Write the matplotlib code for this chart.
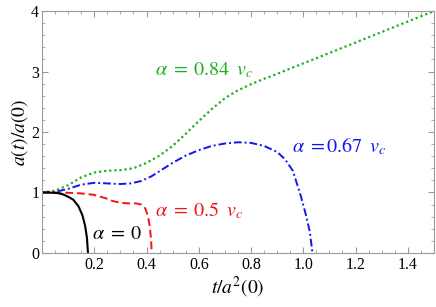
import matplotlib
matplotlib.use("Agg")
import matplotlib.pyplot as plt
from matplotlib.ticker import MultipleLocator, FixedLocator

plt.rcParams['mathtext.fontset'] = 'stix'
plt.rcParams['font.family'] = ['Liberation Serif', 'DejaVu Serif']

# curves: t / a^2(0) against a(t)/a(0)
black_t = [0, 0.03, 0.06, 0.08, 0.10, 0.12, 0.14, 0.155, 0.165, 0.172, 0.176]
black_y = [1.0, 0.998, 0.99, 0.97, 0.93, 0.88, 0.77, 0.62, 0.45, 0.25, 0.0]

red_t = [0, 0.05, 0.10, 0.15, 0.20, 0.24, 0.27, 0.30, 0.33, 0.36, 0.38, 0.395, 0.405, 0.412, 0.417, 0.42]
red_y = [1.0, 1.0, 0.995, 0.985, 0.96, 0.91, 0.86, 0.83, 0.82, 0.82, 0.80, 0.74, 0.62, 0.45, 0.25, 0.0]

blue_t = [0, 0.05, 0.10, 0.15, 0.20, 0.25, 0.30, 0.34, 0.38, 0.42, 0.46, 0.50, 0.55, 0.60, 0.65,
          0.70, 0.75, 0.80, 0.85, 0.90, 0.93, 0.96, 0.99, 1.01, 1.025, 1.035]
blue_y = [1.0, 1.01, 1.06, 1.13, 1.16, 1.15, 1.14, 1.15, 1.19, 1.27, 1.38, 1.49, 1.61, 1.70, 1.77,
          1.81, 1.83, 1.82, 1.77, 1.67, 1.55, 1.36, 0.95, 0.63, 0.35, 0.0]

green_t = [0, 0.05, 0.10, 0.15, 0.20, 0.25, 0.30, 0.35, 0.40, 0.45, 0.50, 0.55, 0.60, 0.65,
           0.70, 0.75, 0.80, 0.85, 0.90, 0.95, 1.05, 1.2, 1.35, 1.5]
green_y = [1.0, 1.03, 1.12, 1.25, 1.33, 1.36, 1.37, 1.40, 1.49, 1.61, 1.77, 1.97, 2.18, 2.38,
           2.56, 2.69, 2.79, 2.88, 2.96, 3.05, 3.22, 3.48, 3.74, 4.0]

x_major = [0.2, 0.4, 0.6, 0.8, 1.0, 1.2, 1.4]
y_major = [0, 1, 2, 3, 4]

GREEN = '#1fb01f'
BLUE = '#1414f0'
RED = '#f01414'

fig = plt.figure(figsize=(4.36, 3.07), dpi=100)
ax = fig.add_axes([0.0963, 0.176, 0.899, 0.788])

ax.plot(green_t, green_y, color=GREEN, lw=1.6, linestyle=(0, (1.0, 1.3)))
ax.plot(blue_t, blue_y, color=BLUE, lw=1.4, linestyle=(0, (4, 1.5, 1, 1.5)))
ax.plot(red_t, red_y, color=RED, lw=1.4, linestyle=(0, (4, 2)))
ax.plot(black_t, black_y, color='black', lw=1.5)

ax.text(0.433, 3.02, r'$\alpha\;=\;0.84\ \,v_c$', color=GREEN, fontsize=14.5, va='center', ha='left')
ax.text(0.955, 1.76, r'$\alpha\;{=}0.67\ \,v_c$', color=BLUE, fontsize=14.5, va='center', ha='left')
ax.text(0.432, 0.69, r'$\alpha\;=\;0.5\ \,v_c$', color=RED, fontsize=14.5, va='center', ha='left')
ax.text(0.19, 0.30, r'$\alpha\;=\;0$', color='black', fontsize=14.5, va='center', ha='left')

ax.set_xlim(0, 1.5)
ax.set_ylim(0, 4)
ax.xaxis.set_major_locator(FixedLocator(x_major))
ax.xaxis.set_minor_locator(MultipleLocator(0.05))
ax.yaxis.set_major_locator(FixedLocator(y_major))
ax.yaxis.set_minor_locator(MultipleLocator(0.2))

for s in ax.spines.values():
    s.set_color('#9a9a9a')
    s.set_linewidth(0.8)
ax.tick_params(which='both', direction='in', top=True, right=True, color='#9a9a9a',
               labelsize=11.5, pad=3)
ax.tick_params(which='major', length=4.5, width=0.8)
ax.tick_params(which='minor', length=2.5, width=0.6)
ax.tick_params(axis='y', which='both', pad=2)

ax.set_xlabel(r'$t/a^2(0)$', fontsize=14, labelpad=1)
ax.set_ylabel(r'$a(t)/a(0)$', fontsize=14, labelpad=1)

fig.savefig('out.png', dpi=100)
